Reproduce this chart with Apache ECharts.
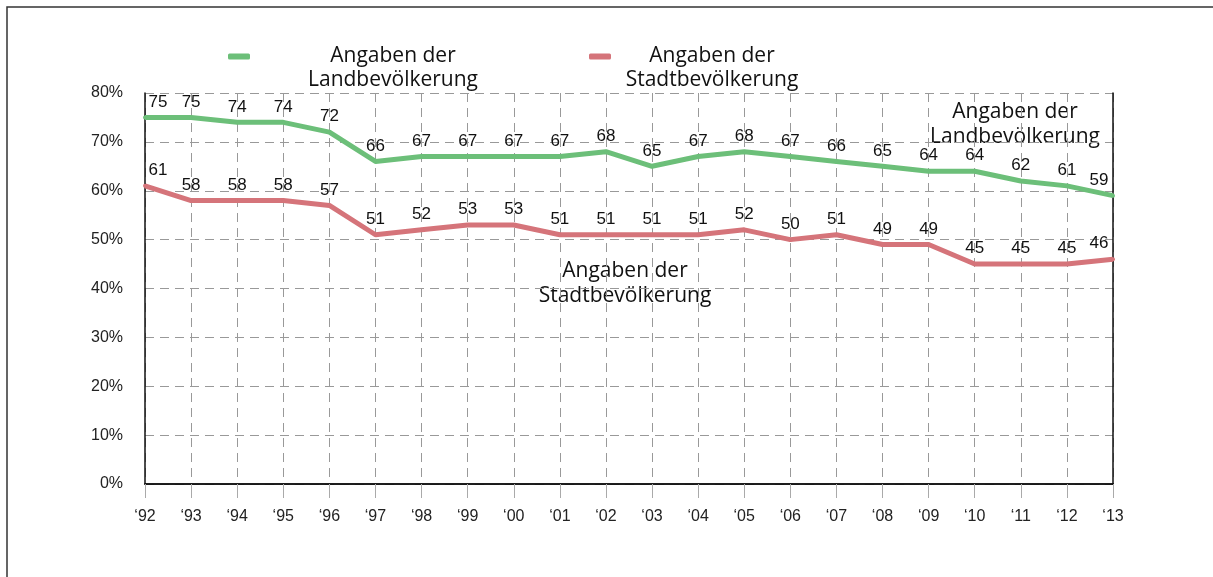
<!DOCTYPE html>
<html lang="de">
<head>
    <meta charset="UTF-8">
    <title></title>
    <style type="text/css">
        body{margin:0;background:#fff;}
        #main{width:1213px;height:577px;}
    </style>
</head>
<body>
<div id="main"></div>
<script src="https://cdn.jsdelivr.net/npm/echarts@6/dist/echarts.min.js"></script>
<script>
    // Jahre
    var years = ['\u201892','\u201893','\u201894','\u201895','\u201896','\u201897','\u201898','\u201899','\u201800','\u201801','\u201802',
                 '\u201803','\u201804','\u201805','\u201806','\u201807','\u201808','\u201809','\u201810','\u201811','\u201812','\u201813'];
    // Angaben der Landbevölkerung
    var land  = [75,75,74,74,72,66,67,67,67,67,68,65,67,68,67,66,65,64,64,62,61,59];
    // Angaben der Stadtbevölkerung
    var stadt = [61,58,58,58,57,51,52,53,53,51,51,51,51,52,50,51,49,49,45,45,45,46];
    var yTicks = [0,10,20,30,40,50,60,70,80];

    var green = '#6cbf79', red = '#d5747a';
    var sans = '"Liberation Sans", Arial, sans-serif';
    var myriad = '"Open Sans", sans-serif';

    function withLabels(arr){
        // Rand-Punkte: Beschriftung nach innen schieben
        return arr.map(function(v, i){
            if (i === 0) return {value: v, label: {offset: [13, 0]}};
            if (i === arr.length - 1) return {value: v, label: {offset: [-14, 0]}};
            return v;
        });
    }

    var myChart = echarts.init(document.getElementById('main'));

    var frameAxis = {show: true, lineStyle: {color: '#111', width: 1.5}};
    var pointLabel = {show: true, position: 'top', distance: 5, fontFamily: sans, fontSize: 17, color: '#111'};

    var option = {
        animation: false,
        grid: {left: 145, right: 100, top: 93, bottom: 93},
        legend: {
            left: 228, top: 22, padding: 0,
            itemWidth: 22, itemHeight: 6, itemGap: 58,
            icon: 'roundRect',
            selectedMode: false,
            data: [{name: 'Land', itemStyle: {color: green}}, {name: 'Stadt', itemStyle: {color: red}}],
            formatter: function(name){
                if (name === 'Land') return '{e| }\n{a|Angaben der}\n{a|Landbevölkerung}';
                return '{e| }\n{b|Angaben der}\n{b|Stadtbevölkerung}';
            },
            textStyle: {
                fontFamily: myriad, fontSize: 21, color: '#111',
                rich: {
                    e: {fontSize: 21, lineHeight: 24},
                    a: {width: 276, align: 'center', fontFamily: myriad, fontSize: 21, lineHeight: 24, color: '#111'},
                    b: {width: 192, align: 'center', fontFamily: myriad, fontSize: 21, lineHeight: 24, color: '#111'}
                }
            }
        },
        xAxis: [{
            type: 'category',
            boundaryGap: false,
            data: years,
            axisLine: frameAxis,
            axisTick: {show: true, length: 14, lineStyle: {color: '#aaa'}},
            axisLabel: {margin: 25, fontFamily: sans, fontSize: 16, color: '#222'},
            splitLine: {show: true, lineStyle: {color: '#999', type: [9, 6], width: 1}}
        }, {
            type: 'category', position: 'top', boundaryGap: false, data: years,
            axisLine: frameAxis, axisTick: {show: false}, axisLabel: {show: false}, splitLine: {show: false}
        }],
        yAxis: [{
            type: 'value',
            min: yTicks[0], max: yTicks[yTicks.length - 1], interval: 10,
            axisLine: frameAxis,
            axisTick: {show: false},
            axisLabel: {margin: 22, fontFamily: sans, fontSize: 16, color: '#222', formatter: '{value}%'},
            splitLine: {show: true, lineStyle: {color: '#999', type: [9, 6], width: 1}}
        }, {
            type: 'value', position: 'right',
            min: yTicks[0], max: yTicks[yTicks.length - 1], interval: 10,
            axisLine: frameAxis, axisTick: {show: false}, axisLabel: {show: false}, splitLine: {show: false}
        }],
        series: [
            {
                name: 'Land',
                type: 'line',
                symbol: 'circle', symbolSize: 4, showSymbol: true,
                itemStyle: {color: green},
                lineStyle: {width: 5, color: green},
                label: pointLabel,
                data: withLabels(land)
            },
            {
                name: 'Stadt',
                type: 'line',
                symbol: 'circle', symbolSize: 4, showSymbol: true,
                itemStyle: {color: red},
                lineStyle: {width: 5, color: red},
                label: pointLabel,
                data: withLabels(stadt)
            }
        ],
        graphic: [
            {type: 'polyline', shape: {points: [[7, 577], [7, 7], [1213, 7]]},
             style: {stroke: '#333', lineWidth: 1.5, fill: null}, silent: true},
            {type: 'text', x: 1015, y: 100,
             style: {text: 'Angaben der\nLandbevölkerung', fontFamily: myriad, fontSize: 21, lineHeight: 25,
                     fill: '#111', align: 'center', verticalAlign: 'top'}},
            {type: 'text', x: 625, y: 259,
             style: {text: 'Angaben der\nStadtbevölkerung', fontFamily: myriad, fontSize: 21, lineHeight: 25,
                     fill: '#111', align: 'center', verticalAlign: 'top'}}
        ]
    };

    myChart.setOption(option);
</script>
</body>
</html>
